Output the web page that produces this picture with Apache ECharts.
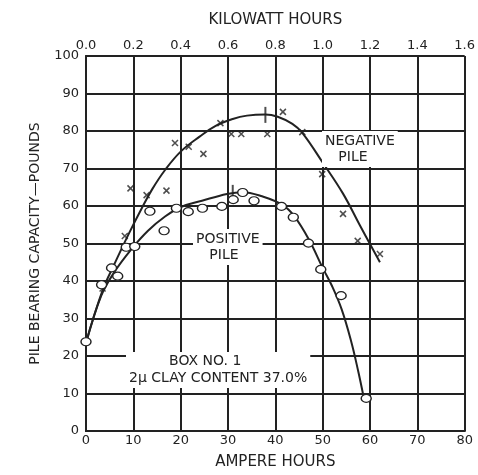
<!DOCTYPE html>
<html>
<head>
<meta charset="utf-8">
<script src="https://cdn.jsdelivr.net/npm/echarts@6/dist/echarts.min.js"></script>
<style>
  html, body { margin: 0; padding: 0; background: #fff; }
  #chart { width: 478px; height: 475px; }
</style>
</head>
<body>
<div id="chart"></div>
<script>
// 数据：正极桩 (圆圈) 和 负极桩 (x)
const positivePts = [[0, 23.8], [3.3, 39], [5.4, 43.5], [6.7, 41.3], [8.5, 49], [10.3, 49.2], [13.5, 58.6], [16.5, 53.4],
    [19.1, 59.4], [21.6, 58.5], [24.6, 59.4], [28.7, 59.9], [31.1, 61.7], [33.1, 63.6], [35.5, 61.4], [41.3, 59.9],
    [43.8, 57], [47, 50.1], [49.6, 43.1], [53.9, 36.1], [59.2, 8.7]]
const negativePts = [[3.5, 38], [8.2, 52], [9.4, 64.7], [12.8, 62.9], [17, 64.1], [18.8, 76.8], [21.7, 75.8], [24.8, 73.9],
    [28.4, 82.1], [30.7, 79.2], [32.8, 79.2], [38.3, 79.2], [41.6, 85.1], [45.7, 79.7], [49.9, 68.5], [54.3, 57.9],
    [57.4, 50.7], [62.1, 47.2]]

// 手绘拟合曲线
const negativeCurve = [[0, 23.5], [3.5, 37.5], [6, 44.5], [9, 52.5], [11.7, 59.2], [14, 64.5], [16.7, 69.6], [20, 74.5],
    [24, 78.5], [27.3, 81.3], [31, 83.2], [34, 84.1], [37.9, 84.4], [40.5, 83.8], [43.6, 81.9], [45.7, 79.5],
    [50, 71.6], [54.3, 63.3], [57.8, 55], [62.1, 45]]
const positiveCurve = [[0, 23.5], [3.2, 36], [6, 42.4], [9.6, 48.5], [13.1, 53.4], [16.7, 57.2], [20.2, 59.8], [24.5, 61.4],
    [29.8, 63.2], [33, 63.7], [37.2, 62.6], [41.5, 60.3], [44, 57.3], [47.2, 50.8], [50, 43.5], [52, 38.6], [54, 32.5],
    [56, 24], [57.5, 16], [58.6, 9.4]]

// 曲线上的竖线标记
const peakMarks = [[37.9, 84.3], [31, 63.5]]

// 坐标轴刻度
const ampTicks = [0, 80, 10]
const kwhTicks = [0, 1.6, 0.2]
const loadTicks = [0, 100, 10]

const ink = '#222'
const font = 'DejaVu Sans'

const myChart = echarts.init(document.getElementById('chart'))

const labelStyle = { color: ink, fontFamily: font, fontSize: 13 }
const splitStyle = { show: true, lineStyle: { color: ink, width: 2 } }

const option = {
    backgroundColor: '#fff',
    animation: false,
    grid: { left: 86, right: 12, top: 56, bottom: 41 },
    xAxis: [
        {
            type: 'value', position: 'bottom',
            min: ampTicks[0], max: ampTicks[1], interval: ampTicks[2],
            name: 'AMPERE HOURS', nameLocation: 'middle', nameGap: 24,
            nameTextStyle: { color: ink, fontFamily: font, fontSize: 15 },
            axisLine: { show: true, onZero: false, lineStyle: { color: ink, width: 2 } },
            axisTick: { show: false },
            axisLabel: Object.assign({ margin: 3 }, labelStyle),
            splitLine: splitStyle
        },
        {
            type: 'value', position: 'top',
            min: kwhTicks[0], max: kwhTicks[1], interval: kwhTicks[2],
            name: 'KILOWATT HOURS', nameLocation: 'middle', nameGap: 28,
            nameTextStyle: { color: ink, fontFamily: font, fontSize: 15 },
            axisLine: { show: true, lineStyle: { color: ink, width: 2 } },
            axisTick: { show: false },
            axisLabel: Object.assign({ margin: 4, formatter: v => v.toFixed(1) }, labelStyle),
            splitLine: { show: false }
        }
    ],
    yAxis: [
        {
            type: 'value',
            min: loadTicks[0], max: loadTicks[1], interval: loadTicks[2],
            name: 'PILE BEARING CAPACITY—POUNDS', nameLocation: 'middle', nameGap: 44,
            nameTextStyle: { color: ink, fontFamily: font, fontSize: 14 },
            axisLine: { show: true, lineStyle: { color: ink, width: 2 } },
            axisTick: { show: false },
            axisLabel: Object.assign({ margin: 7 }, labelStyle),
            splitLine: splitStyle
        },
        {
            type: 'value', position: 'right',
            min: loadTicks[0], max: loadTicks[1], interval: loadTicks[2],
            axisLine: { show: true, lineStyle: { color: ink, width: 2 } },
            axisTick: { show: false },
            axisLabel: { show: false },
            splitLine: { show: false }
        }
    ],
    graphic: [
        {
            type: 'text', left: 322, top: 131, z: 50,
            style: { text: 'NEGATIVE\n   PILE', fill: ink, font: '14px "DejaVu Sans"', lineHeight: 16, backgroundColor: '#fff', padding: [2, 3] }
        },
        {
            type: 'text', left: 193, top: 229, z: 50,
            style: { text: 'POSITIVE\n   PILE', fill: ink, font: '14px "DejaVu Sans"', lineHeight: 16, backgroundColor: '#fff', padding: [2, 3] }
        },
        {
            type: 'text', left: 126, top: 352, z: 50,
            style: { text: '         BOX NO. 1\n2μ CLAY CONTENT 37.0%', fill: ink, font: '14px "DejaVu Sans"', lineHeight: 17, backgroundColor: '#fff', padding: [1, 3] }
        }
    ],
    series: [
        {
            name: 'negative curve', type: 'line', smooth: 0.4, symbol: 'none', z: 3,
            lineStyle: { color: ink, width: 2 },
            data: negativeCurve
        },
        {
            name: 'positive curve', type: 'line', smooth: 0.4, symbol: 'none', z: 3,
            lineStyle: { color: ink, width: 2 },
            data: positiveCurve
        },
        {
            name: 'negative pile', type: 'scatter', z: 5,
            symbol: 'path://M0,0L10,10M10,0L0,10', symbolSize: 6,
            itemStyle: { color: 'rgba(0,0,0,0)', borderColor: ink, borderWidth: 1.5 },
            data: negativePts
        },
        {
            name: 'positive pile', type: 'scatter', z: 5,
            symbol: 'circle', symbolSize: [10, 8],
            itemStyle: { color: '#fff', borderColor: ink, borderWidth: 1.3, opacity: 1 },
            data: positivePts
        },
        {
            name: 'marks', type: 'scatter', z: 4,
            symbol: 'rect', symbolSize: [2, 16],
            itemStyle: { color: ink },
            data: peakMarks
        }
    ]
}

myChart.setOption(option)
</script>
</body>
</html>
